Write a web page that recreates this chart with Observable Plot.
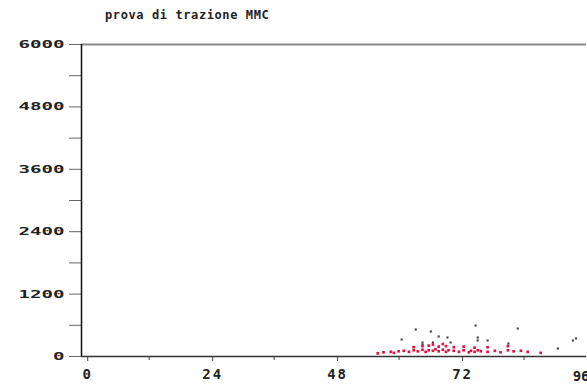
<!DOCTYPE html>
<html>
<head>
<meta charset="utf-8">
<script src="https://cdn.jsdelivr.net/npm/d3@7"></script>
<script src="https://cdn.jsdelivr.net/npm/@observablehq/plot@0.6"></script>
<style>
  body { margin: 0; background: #fff; }
  #wrap { width: 587px; height: 389px; position: relative; overflow: hidden; }
  #title { height: 30px; box-sizing: border-box; padding-left: 105px; padding-top: 9px;
    font-family: "DejaVu Sans Mono", monospace; font-weight: bold; font-size: 12px;
    letter-spacing: 0.6px; color: #222; line-height: 12px; }
  g[aria-label="x-axis tick label"] text { letter-spacing: 2px; }
  g[aria-label="last-x-label"] text { letter-spacing: 2px; }
</style>
</head>
<body>
<div id="wrap">
  <div id="title">prova di trazione MMC</div>
  <div id="chart"></div>
</div>
<script>
const title = "prova di trazione MMC";
const xTicks = [0, 24, 48, 72, 96];
const xMinor = [12, 36, 60, 84];
const yTicks = [0, 1200, 2400, 3600, 4800, 6000];
const yMinor = [600, 1800, 3000, 4200, 5400];

// red points near the baseline
const redX = [55.9, 57.0, 58.4, 59.0, 59.9, 60.9, 61.9, 62.8, 63.6, 64.5, 65.1, 65.7, 66.5, 67.0, 67.6, 68.4, 69.0, 69.5, 70.5, 71.5, 72.4, 73.4, 73.8, 74.5, 75.1, 75.7, 77.0, 78.4, 79.5, 80.9, 82.0, 83.4, 84.7, 87.2,
              62.8, 64.5, 65.7, 66.5, 67.6, 68.4, 69.0, 70.5, 72.4, 74.5, 77.0, 80.9];
const redY = [60, 80, 90, 70, 100, 110, 90, 120, 100, 130, 90, 120, 110, 140, 100, 130, 90, 120, 110, 90, 120, 80, 110, 90, 120, 100, 90, 110, 80, 120, 100, 110, 90, 70,
              180, 200, 210, 230, 190, 240, 200, 180, 190, 170, 180, 200];
// dark scattered points
const darkX = [63.2, 60.5, 66.1, 67.6, 69.3, 64.5, 66.5, 74.7, 75.1, 75.1, 77.0, 81.0, 82.8, 90.5, 93.4, 94.0, 69.9, 64.5];
const darkY = [519, 327, 481, 385, 365, 269, 269, 596, 365, 308, 308, 250, 538, 154, 308, 346, 269, 230];

const red = redX.map((x, i) => ({x, y: redY[i]}));
const dark = darkX.map((x, i) => ({x, y: darkY[i]}));

const font = '"DejaVu Sans Mono", monospace';
const lastX = xTicks[xTicks.length - 1];

const chart = Plot.plot({
  width: 587,
  height: 359,
  marginTop: 14,
  marginBottom: 33,
  marginLeft: 81,
  marginRight: 1,
  x: {domain: [-1, 96], label: null},
  y: {domain: [0, 6000], label: null},
  style: {fontFamily: font, fontWeight: "bold", color: "#222", background: "#fff"},
  marks: [
    Plot.axisY({ticks: yTicks, tickSize: 12, tickPadding: 5, tickFormat: d => String(d),
      fontSize: 11, stroke: "#666", fill: "#222", label: null}),
    Plot.axisY({ticks: yMinor, tickSize: 12, text: null, stroke: "#666", label: null}),
    Plot.axisX({ticks: xTicks, tickSize: 5, tickPadding: 8,
      tickFormat: d => d === lastX ? "" : String(d), dx: 1,
      fontSize: 14, stroke: "#444", fill: "#222", label: null}),
    Plot.text([lastX], {x: d => d, frameAnchor: "bottom", dy: 24, textAnchor: "end", text: d => String(d),
      fontSize: 14, fill: "#222", dx: 3, ariaLabel: "last-x-label"}),
    Plot.axisX({ticks: xMinor, tickSize: 4, text: null, stroke: "#444", label: null}),
    Plot.ruleY([6000], {x1: -1, x2: 96, stroke: "#888", strokeWidth: 2}),
    Plot.ruleY([0], {x1: -1, x2: 96, stroke: "#333", strokeWidth: 1.5}),
    Plot.ruleX([-1], {y1: 0, y2: 6000, stroke: "#111", strokeWidth: 1.5}),
    Plot.dot(dark, {x: "x", y: "y", symbol: "square", r: 1.2, fill: "#444", stroke: null}),
    Plot.dot(red, {x: "x", y: "y", symbol: "square", r: 1.5, fill: "#e0123e", stroke: null})
  ]
});
// stretch y tick labels horizontally to mimic the wide bitmap font
d3.select(chart).selectAll('g[aria-label="y-axis tick label"] text').each(function() {
  const n = this.textContent.length;
  this.setAttribute("textLength", n * 11.5);
  this.setAttribute("lengthAdjust", "spacingAndGlyphs");
});
document.getElementById("chart").appendChild(chart);
</script>
</body>
</html>
